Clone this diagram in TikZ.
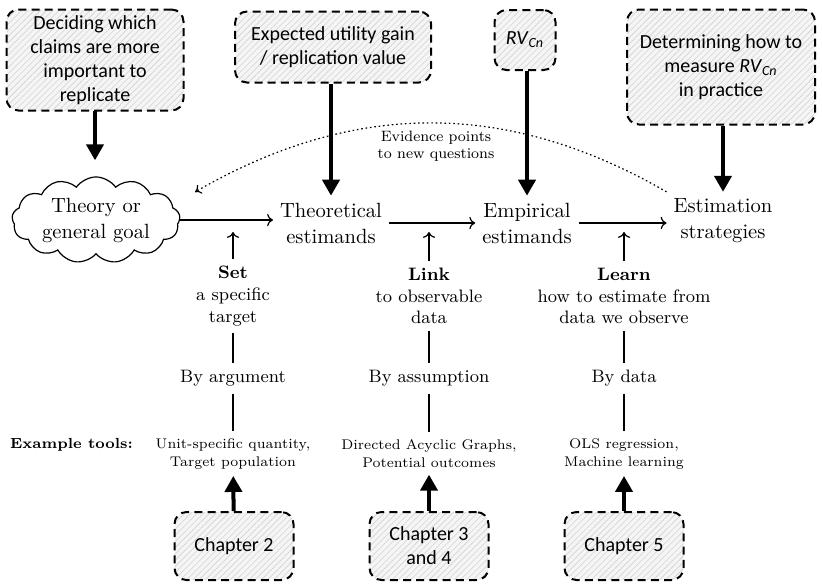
\documentclass[tikz,border=0pt]{standalone}
\usepackage{fontspec}
\newfontfamily\boxfont{Carlito}
\usetikzlibrary{arrows.meta,shapes.symbols,patterns.meta,calc}

\begin{document}
\begin{tikzpicture}[x=0.5pt,y=0.5pt,
  noteBox/.style={draw, line width=1pt, dash pattern=on 4pt off 2.6pt,
    rounded corners=6pt, preaction={fill=gray!8},
    pattern={Lines[angle=45,distance=2.2pt,line width=0.3pt]}, pattern color=gray!35,
    font=\boxfont\fontsize{10}{12}\selectfont, align=center, inner sep=2pt},
  heavy/.style={line width=2pt, -{Triangle[width=8.5pt,length=8pt]}},
  flow/.style={line width=0.6pt, ->},
  stage/.style={font=\fontsize{10.3}{13}\selectfont, align=center},
  action/.style={font=\fontsize{9}{10.8}\selectfont, align=center},
  mode/.style={font=\fontsize{9}{10.8}\selectfont},
  tools/.style={font=\fontsize{7}{9}\selectfont, align=center},
  link/.style={line width=0.6pt},
  chapterBox/.style={noteBox, minimum width=59.5pt, minimum height=34pt}
]
\useasboundingbox (0,0) rectangle (822,-586);

% upper notes
\node[noteBox, minimum width=88.5pt, minimum height=50.5pt] (decide) at (95,-60)
  {Deciding which\\claims are more\\important to\\replicate};
\node[noteBox, minimum width=98pt, minimum height=35.5pt] (gain) at (333,-47)
  {Expected utility gain\\/ replication value};
\node[noteBox, minimum width=30.5pt, minimum height=30pt] (rv) at (525,-40)
  {\textit{RV}\textsubscript{\textit{Cn}}};
\node[noteBox, minimum width=94pt, minimum height=57.5pt] (measure) at (721,-67)
  {Determining how to\\measure \textit{RV}\textsubscript{\textit{Cn}}\\in practice};

% main chain
\node[cloud, draw, line width=0.6pt, cloud puffs=13, cloud puff arc=110, aspect=2.2,
  minimum width=84pt, minimum height=40pt, inner sep=0pt, stage] (goal) at (96,-220)
  {Theory or\\general goal};
\node[stage] (theo) at (331,-223) {Theoretical\\estimands};
\node[stage] (emp) at (527,-223) {Empirical\\estimands};
\node[stage] (est) at (723,-221) {Estimation\\strategies};

\draw[flow] (goal.east) -- (theo.west |- goal.east);
\draw[flow] (theo.east) -- (emp.west);
\draw[flow] (emp.east) -- (est.west |- emp.east);

% feedback loop
\coordinate (back) at (195,-192);
\draw[line width=0.6pt, dash pattern=on 0.8pt off 1.4pt, -{To[length=3pt,width=5pt]}]
  (est.north west) to[bend right=30] (back);
\node[font=\fontsize{7.5}{8.5}\selectfont, align=center] (evid) at (436,-146)
  {Evidence points\\to new questions};

% columns below
\coordinate (t1) at (233,-232);
\coordinate (t2) at (429,-232);
\coordinate (t3) at (624,-232);

\node[action] (set) at (233,-296) {\textbf{Set}\\a specific\\target};
\node[action] (link) at (429,-296) {\textbf{Link}\\to observable\\data};
\node[action] (learn) at (624,-296) {\textbf{Learn}\\how to estimate from\\data we observe};

\node[mode] (arg) at (233,-378.5) {By argument};
\node[mode] (assum) at (429,-378.5) {By assumption};
\node[mode] (bydata) at (624,-378.5) {By data};

\node[tools] (tool1) at (233,-453.5) {Unit-specific quantity,\\Target population};
\node[tools] (tool2) at (429,-453.5) {Directed Acyclic Graphs,\\Potential outcomes};
\node[tools] (tool3) at (624,-453.5) {OLS regression,\\Machine learning};
\node[font=\fontsize{7.3}{9}\selectfont\bfseries, anchor=base east] (extools) at (140,-448)
  {Example tools:};

\foreach \a/\t in {set/t1, link/t2, learn/t3} \draw[flow] (\a) -- (\t);
\foreach \a/\b in {set/arg, arg/tool1, link/assum, assum/tool2, learn/bydata, bydata/tool3}
  \draw[link] (\a) -- (\b);

% chapters
\node[chapterBox] (ch2) at (234,-546) {Chapter 2};
\node[chapterBox] (ch34) at (429,-546) {Chapter 3\\and 4};
\node[chapterBox] (ch5) at (624,-546) {Chapter 5};

% heavy arrows
\draw[heavy, shorten >=8pt] (decide.south) -- (decide.south |- goal.north);
\draw[heavy] (theo.north |- gain.south) -- (theo.north);
\draw[heavy] (emp.north |- rv.south) -- (emp.north);
\draw[heavy] (est.north |- measure.south) -- (est.north);
\draw[heavy] (ch2) -- (tool1);
\draw[heavy] (ch34) -- (tool2);
\draw[heavy] (ch5) -- (tool3);
\end{tikzpicture}
\end{document}
